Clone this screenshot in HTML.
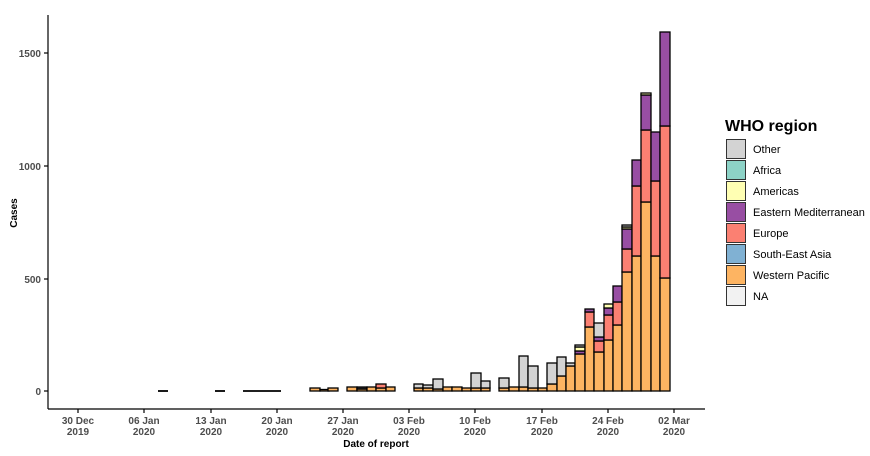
<!DOCTYPE html>
<html><head><style>body{margin:0;background:#fff}svg{display:block}</style></head>
<body>
<svg width="870" height="456" xmlns="http://www.w3.org/2000/svg" font-family="Liberation Sans, sans-serif">
<rect width="870" height="456" fill="#fff"/>
<g stroke="#000" stroke-width="1.3">
<line x1="158" y1="391" x2="168" y2="391" stroke-width="1.8"/>
<line x1="215" y1="391" x2="225" y2="391" stroke-width="1.8"/>
<line x1="243" y1="391" x2="281" y2="391" stroke-width="1.8"/>
<rect x="310" y="388" width="10" height="3" fill="#FDB462"/>
<rect x="320" y="389.5" width="9" height="1.5" fill="#FDB462"/>
<rect x="328" y="388" width="10" height="3" fill="#FDB462"/>
<rect x="347" y="387" width="10" height="4" fill="#FDB462"/>
<rect x="357" y="389" width="10" height="2" fill="#FDB462"/><rect x="357" y="387" width="10" height="2" fill="#333"/>
<rect x="367" y="387" width="9" height="4" fill="#FDB462"/>
<rect x="376" y="388" width="10" height="3" fill="#FDB462"/><rect x="376" y="384" width="10" height="4" fill="#FB8072"/>
<rect x="386" y="387" width="9" height="4" fill="#FDB462"/>
<rect x="414" y="388" width="9" height="3" fill="#FDB462"/><rect x="414" y="384" width="9" height="4" fill="#D3D3D3"/>
<rect x="423" y="388" width="10" height="3" fill="#FDB462"/><rect x="423" y="385" width="10" height="3" fill="#D3D3D3"/>
<rect x="433" y="389" width="10" height="2" fill="#FDB462"/><rect x="433" y="379" width="10" height="10" fill="#D3D3D3"/>
<rect x="443" y="387" width="9" height="4" fill="#FDB462"/>
<rect x="452" y="387" width="10" height="4" fill="#FDB462"/>
<rect x="462" y="388" width="9" height="3" fill="#FDB462"/>
<rect x="471" y="388" width="10" height="3" fill="#FDB462"/><rect x="471" y="373" width="10" height="15" fill="#D3D3D3"/>
<rect x="481" y="388" width="9" height="3" fill="#FDB462"/><rect x="481" y="381" width="9" height="7" fill="#D3D3D3"/>
<rect x="499" y="388" width="10" height="3" fill="#FDB462"/><rect x="499" y="378" width="10" height="10" fill="#D3D3D3"/>
<rect x="509" y="387" width="10" height="4" fill="#FDB462"/>
<rect x="519" y="387" width="9" height="4" fill="#FDB462"/><rect x="519" y="356" width="9" height="31" fill="#D3D3D3"/>
<rect x="528" y="388" width="10" height="3" fill="#FDB462"/><rect x="528" y="366" width="10" height="22" fill="#D3D3D3"/>
<rect x="538" y="388" width="9" height="3" fill="#FDB462"/>
<rect x="547" y="384" width="10" height="7" fill="#FDB462"/><rect x="547" y="363" width="10" height="21" fill="#D3D3D3"/>
<rect x="557" y="376" width="9" height="15" fill="#FDB462"/><rect x="557" y="357" width="9" height="19" fill="#D3D3D3"/>
<rect x="566" y="366" width="9" height="25" fill="#FDB462"/><rect x="566" y="363" width="9" height="3" fill="#D3D3D3"/>
<rect x="575" y="354" width="10" height="37" fill="#FDB462"/><rect x="575" y="351" width="10" height="3" fill="#984EA3"/><rect x="575" y="347" width="10" height="4" fill="#FFFFB3"/><rect x="575" y="345" width="10" height="2" fill="#D3D3D3"/>
<rect x="585" y="327" width="9" height="64" fill="#FDB462"/><rect x="585" y="312" width="9" height="15" fill="#FB8072"/><rect x="585" y="309" width="9" height="3" fill="#984EA3"/>
<rect x="594" y="352" width="10" height="39" fill="#FDB462"/><rect x="594" y="341" width="10" height="11" fill="#FB8072"/><rect x="594" y="337" width="10" height="4" fill="#984EA3"/><rect x="594" y="323" width="10" height="14" fill="#D3D3D3"/>
<rect x="604" y="340" width="9" height="51" fill="#FDB462"/><rect x="604" y="315" width="9" height="25" fill="#FB8072"/><rect x="604" y="308" width="9" height="7" fill="#984EA3"/><rect x="604" y="304" width="9" height="4" fill="#FFFFB3"/>
<rect x="613" y="325" width="9" height="66" fill="#FDB462"/><rect x="613" y="302" width="9" height="23" fill="#FB8072"/><rect x="613" y="286" width="9" height="16" fill="#984EA3"/>
<rect x="622" y="272" width="10" height="119" fill="#FDB462"/><rect x="622" y="249" width="10" height="23" fill="#FB8072"/><rect x="622" y="229" width="10" height="20" fill="#984EA3"/><rect x="622" y="227" width="10" height="2" fill="#FFFFB3"/><rect x="622" y="225" width="10" height="2" fill="#D3D3D3"/>
<rect x="632" y="256" width="9" height="135" fill="#FDB462"/><rect x="632" y="186" width="9" height="70" fill="#FB8072"/><rect x="632" y="160" width="9" height="26" fill="#984EA3"/>
<rect x="641" y="202" width="10" height="189" fill="#FDB462"/><rect x="641" y="130" width="10" height="72" fill="#FB8072"/><rect x="641" y="95" width="10" height="35" fill="#984EA3"/><rect x="641" y="93" width="10" height="2" fill="#FFFFB3"/>
<rect x="651" y="256" width="9" height="135" fill="#FDB462"/><rect x="651" y="181" width="9" height="75" fill="#FB8072"/><rect x="651" y="132" width="9" height="49" fill="#984EA3"/>
<rect x="660" y="278" width="10" height="113" fill="#FDB462"/><rect x="660" y="126" width="10" height="152" fill="#FB8072"/><rect x="660" y="32" width="10" height="94" fill="#984EA3"/>
</g>
<g stroke="#000" stroke-width="1.2" fill="none">
<line x1="48" y1="15" x2="48" y2="409"/>
<line x1="48" y1="409" x2="705" y2="409"/>
<line x1="44" y1="391" x2="48" y2="391"/><line x1="44" y1="279" x2="48" y2="279"/><line x1="44" y1="166" x2="48" y2="166"/><line x1="44" y1="53" x2="48" y2="53"/>
<line x1="78" y1="409" x2="78" y2="413"/><line x1="144" y1="409" x2="144" y2="413"/><line x1="211" y1="409" x2="211" y2="413"/><line x1="277" y1="409" x2="277" y2="413"/><line x1="343" y1="409" x2="343" y2="413"/><line x1="409" y1="409" x2="409" y2="413"/><line x1="475" y1="409" x2="475" y2="413"/><line x1="542" y1="409" x2="542" y2="413"/><line x1="608" y1="409" x2="608" y2="413"/><line x1="674" y1="409" x2="674" y2="413"/>
</g>
<g font-size="10" font-weight="bold" fill="#4d4d4d" text-anchor="end">
<text x="41" y="395">0</text><text x="41" y="283">500</text><text x="41" y="170">1000</text><text x="41" y="57">1500</text>
</g>
<g font-size="10" font-weight="bold" fill="#4d4d4d" text-anchor="middle">
<text x="78" y="424">30 Dec</text><text x="78" y="435">2019</text>
<text x="144" y="424">06 Jan</text><text x="144" y="435">2020</text>
<text x="211" y="424">13 Jan</text><text x="211" y="435">2020</text>
<text x="277" y="424">20 Jan</text><text x="277" y="435">2020</text>
<text x="343" y="424">27 Jan</text><text x="343" y="435">2020</text>
<text x="409" y="424">03 Feb</text><text x="409" y="435">2020</text>
<text x="475" y="424">10 Feb</text><text x="475" y="435">2020</text>
<text x="542" y="424">17 Feb</text><text x="542" y="435">2020</text>
<text x="608" y="424">24 Feb</text><text x="608" y="435">2020</text>
<text x="674" y="424">02 Mar</text><text x="674" y="435">2020</text>
</g>
<text x="376" y="447" font-size="10" font-weight="bold" text-anchor="middle">Date of report</text>
<text transform="translate(17,213) rotate(-90)" font-size="10" font-weight="bold" text-anchor="middle">Cases</text>
<text x="725" y="131" font-size="16" font-weight="bold">WHO region</text>
<g stroke="#333" stroke-width="1">
<rect x="726.5" y="139.5" width="19" height="19" fill="#D3D3D3"/>
<rect x="726.5" y="160.5" width="19" height="19" fill="#8DD3C7"/>
<rect x="726.5" y="181.5" width="19" height="19" fill="#FFFFB3"/>
<rect x="726.5" y="202.5" width="19" height="19" fill="#984EA3"/>
<rect x="726.5" y="223.5" width="19" height="19" fill="#FB8072"/>
<rect x="726.5" y="244.5" width="19" height="19" fill="#80B1D3"/>
<rect x="726.5" y="265.5" width="19" height="19" fill="#FDB462"/>
<rect x="726.5" y="286.5" width="19" height="19" fill="#F2F2F2"/>
</g>
<g font-size="11" fill="#000">
<text x="753" y="153">Other</text><text x="753" y="174">Africa</text><text x="753" y="195">Americas</text><text x="753" y="216">Eastern Mediterranean</text><text x="753" y="237">Europe</text><text x="753" y="258">South-East Asia</text><text x="753" y="279">Western Pacific</text><text x="753" y="300">NA</text>
</g>
</svg>
</body></html>
